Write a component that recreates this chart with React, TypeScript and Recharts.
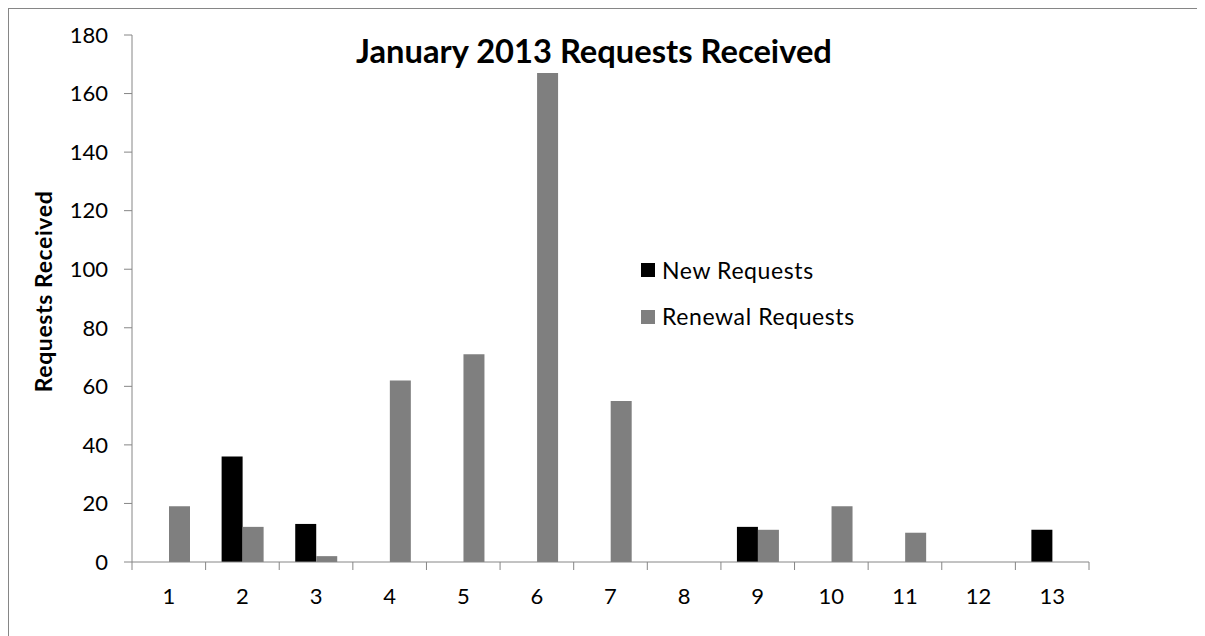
import { Bar, BarChart, Label, Legend, XAxis, YAxis } from "recharts";

const days = ["1", "2", "3", "4", "5", "6", "7", "8", "9", "10", "11", "12", "13"];
const newRequests = [0, 36, 13, 0, 0, 0, 0, 0, 12, 0, 0, 0, 11];
const renewalRequests = [19, 12, 2, 62, 71, 167, 55, 0, 11, 19, 10, 0, 0];
const yTicks = [0, 20, 40, 60, 80, 100, 120, 140, 160, 180];

const seriesNames = { newReq: "New Requests", renewal: "Renewal Requests" };

const data = days.map((day, i) => ({
  day,
  newReq: newRequests[i],
  renewal: renewalRequests[i],
}));

const FONT = "Lato, 'Liberation Sans', sans-serif";
const AXIS = "#868686";
const W = 1196;
const H = 627;
const MARGIN = { top: 26, right: 116, bottom: 0, left: 13 };
const Y_WIDTH = 110;
const BAND = (W - MARGIN.left - Y_WIDTH - MARGIN.right) / days.length;

// category axis: labels in the middle, tick marks on the band edges
function DayTick(props: any) {
  const { x, y, payload, index } = props;
  const half = payload?.offset ?? BAND / 2;
  return (
    <g>
      <line x1={x - half} x2={x - half} y1={y} y2={y + 8} stroke={AXIS} />
      {index === days.length - 1 && (
        <line x1={x + half} x2={x + half} y1={y} y2={y + 8} stroke={AXIS} />
      )}
      <text x={x} y={y + 42} textAnchor="middle" fontSize={22} fontFamily={FONT} fill="#000">
        {payload.value}
      </text>
    </g>
  );
}

function YTitle(props: any) {
  const vb = props.viewBox;
  const cx = vb.x + 20.5;
  const cy = vb.y + vb.height / 2 - 7;
  return (
    <text
      x={cx}
      y={cy}
      transform={`rotate(-90, ${cx}, ${cy})`}
      textAnchor="middle"
      dominantBaseline="central"
      fontSize={23}
      letterSpacing={0.6}
      fontWeight="bold"
      fontFamily={FONT}
      fill="#000"
    >
      Requests Received
    </text>
  );
}

function LegendBox() {
  const items = [
    { name: seriesNames.newReq, color: "#000000" },
    { name: seriesNames.renewal, color: "#7f7f7f" },
  ];
  return (
    <div style={{ fontFamily: FONT, fontSize: 23, letterSpacing: 0.6, color: "#000" }}>
      {items.map((it) => (
        <div key={it.name} style={{ display: "flex", alignItems: "center", height: 46.5, whiteSpace: "nowrap" }}>
          <span style={{ display: "inline-block", width: 14, height: 14, background: it.color, marginRight: 7 }} />
          <span style={{ lineHeight: 1 }}>{it.name}</span>
        </div>
      ))}
    </div>
  );
}

export default function App() {
  return (
    <div
      style={{
        position: "relative",
        width: 1197,
        height: 628,
        boxSizing: "border-box",
        borderTop: `1px solid ${AXIS}`,
        borderLeft: `1px solid ${AXIS}`,
      }}
    >
      <div
        style={{
          position: "absolute",
          left: 285,
          width: 600,
          top: 26,
          textAlign: "center",
          fontFamily: FONT,
          fontWeight: "bold",
          fontSize: 32.7,
          lineHeight: 1,
          color: "#000",
          zIndex: 2,
        }}
      >
        January 2013 Requests Received
      </div>
      <BarChart width={W} height={H} data={data} margin={MARGIN} barSize={21} barGap={0}>
        <XAxis
          dataKey="day"
          height={74}
          axisLine={{ stroke: AXIS }}
          tickLine={false}
          tickSize={0}
          tickMargin={0}
          tick={<DayTick />}
          interval={0}
        />
        <YAxis
          width={Y_WIDTH}
          domain={[0, 180]}
          ticks={yTicks}
          interval={0}
          axisLine={{ stroke: AXIS }}
          tickLine={{ stroke: AXIS }}
          tickSize={8}
          tickMargin={16}
          tick={{ fontSize: 22, fontFamily: FONT, fill: "#000" }}
        >
          <Label content={<YTitle />} />
        </YAxis>
        <Legend
          layout="vertical"
          align="center"
          verticalAlign="middle"
          wrapperStyle={{ left: 632, top: 238, width: "auto" }}
          content={<LegendBox />}
        />
        <Bar dataKey="newReq" name={seriesNames.newReq} fill="#000000" isAnimationActive={false} />
        <Bar dataKey="renewal" name={seriesNames.renewal} fill="#7f7f7f" isAnimationActive={false} />
      </BarChart>
    </div>
  );
}
